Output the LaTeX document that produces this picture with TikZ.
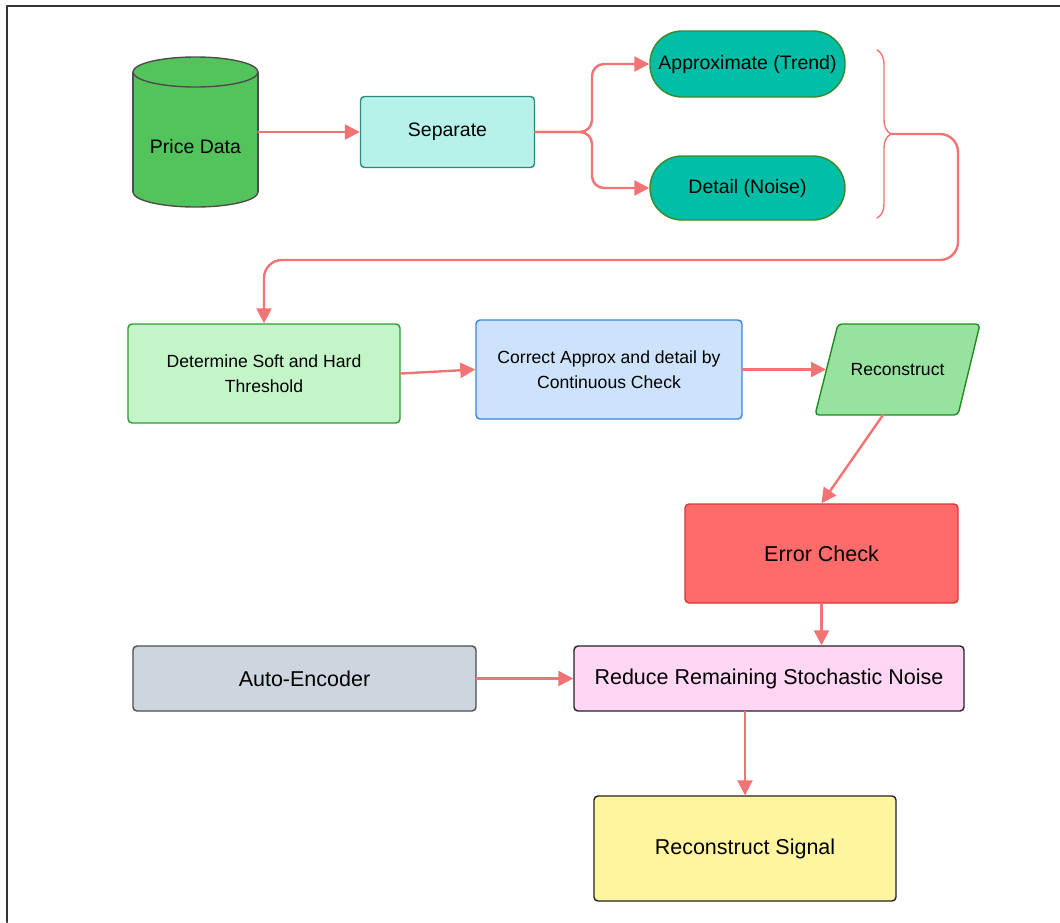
\documentclass[tikz,border=0pt]{standalone}
\usepackage{fontspec}
\setmainfont{Liberation Sans}
\usetikzlibrary{arrows.meta,decorations.pathreplacing}
\definecolor{linkred}{HTML}{F27373}
\definecolor{framegray}{HTML}{333333}
\definecolor{cylgreen}{HTML}{53C35C}
\definecolor{darkgray}{HTML}{4D4D4D}
\definecolor{sepfill}{HTML}{B6F2EA}
\definecolor{sepedge}{HTML}{2A8A7E}
\definecolor{tealfill}{HTML}{00BFA6}
\definecolor{tealedge}{HTML}{3A8A2A}
\definecolor{threshfill}{HTML}{C4F5C8}
\definecolor{threshedge}{HTML}{2E9B2E}
\definecolor{corrfill}{HTML}{CDE3FB}
\definecolor{corredge}{HTML}{3A85DB}
\definecolor{reconfill}{HTML}{98E2A0}
\definecolor{reconedge}{HTML}{1E8C1E}
\definecolor{errfill}{HTML}{FF6B6B}
\definecolor{erredge}{HTML}{D93636}
\definecolor{autofill}{HTML}{CDD5DE}
\definecolor{pinkfill}{HTML}{FFD6F4}
\definecolor{yellowfill}{HTML}{FFF59F}
\definecolor{nearblack}{HTML}{222222}
\begin{document}
\begin{tikzpicture}[x=1pt, y=-1pt, line join=round, line cap=round,
  link/.style={draw=linkred, line width=2.4pt, -{Triangle[length=15pt,width=15pt]}},
  flowbox/.style={rectangle, rounded corners=4pt, line width=1.4pt, align=center, inner sep=0pt},
  smalltext/.style={font=\fontsize{17.6}{24.5}\selectfont},
  midtext/.style={font=\fontsize{19.5}{23}\selectfont},
  largetext/.style={font=\fontsize{21.5}{26}\selectfont}]
\useasboundingbox (0,0) rectangle (1060,922);
\draw[framegray, line width=2pt] (7,922) -- (7,6) -- (1060,6);

% price data cylinder
\filldraw[fill=cylgreen, draw=darkgray, line width=1.4pt] (195.5,192) ellipse [x radius=62.5, y radius=15];
\fill[cylgreen] (133,72) rectangle (258,192);
\draw[darkgray, line width=1.4pt] (133,72) -- (133,192) (258,72) -- (258,192);
\filldraw[fill=cylgreen, draw=darkgray, line width=1.4pt] (195.5,72) ellipse [x radius=62.5, y radius=15];
\node[midtext, inner sep=0pt, minimum width=125pt, minimum height=120pt] (pdata) at (195.5,147) {Price Data};

\node[flowbox, midtext, fill=sepfill, draw=sepedge, minimum width=174pt, minimum height=71pt] (sep) at (447.5,132) {Separate};
\node[flowbox, midtext, rounded corners=32pt, fill=tealfill, draw=tealedge, minimum width=195pt, minimum height=66pt] (approx) at (747.5,64) {Approximate (Trend)};
\node[flowbox, midtext, rounded corners=32pt, fill=tealfill, draw=tealedge, minimum width=195pt, minimum height=64pt] (detail) at (747.5,188) {Detail (Noise)};

\node[flowbox, smalltext, fill=threshfill, draw=threshedge, minimum width=272pt, minimum height=99pt] (thresh) at (264,373.5) {Determine Soft and Hard\\Threshold};
\node[flowbox, smalltext, fill=corrfill, draw=corredge, minimum width=266pt, minimum height=99pt] (correct) at (609,369.5) {Correct Approx and detail by\\Continuous Check};
% reconstruct parallelogram
\filldraw[fill=reconfill, draw=reconedge, line width=1.4pt, rounded corners=4pt] (838,324) -- (980,324) -- (958,415) -- (815,415) -- cycle;
\node[smalltext, inner sep=0pt, minimum width=100pt, minimum height=91pt] (recon) at (897.5,369.5) {Reconstruct};
\coordinate (reconin) at (826,369.5);
\coordinate (reconout) at (883,415);

\node[flowbox, largetext, fill=errfill, draw=erredge, minimum width=273pt, minimum height=99pt] (errchk) at (821.5,553.5) {Error Check};
\node[flowbox, largetext, fill=autofill, draw=darkgray, minimum width=343pt, minimum height=65pt] (autoenc) at (304.5,678.5) {Auto-Encoder};
\node[flowbox, largetext, fill=pinkfill, draw=nearblack, minimum width=390pt, minimum height=65pt] (reduce) at (769,678.5) {Reduce Remaining Stochastic Noise};
\node[flowbox, largetext, fill=yellowfill, draw=nearblack, minimum width=302pt, minimum height=105pt] (signal) at (745,848.5) {Reconstruct Signal};

% connectors
\draw[link] (pdata.east |- sep.west) -- (sep.west);
\draw[link, rounded corners=12pt] (sep.east) -- (592,132) |- (approx.west);
\draw[link, rounded corners=12pt] (sep.east) -- (592,132) |- (detail.west);
\draw[linkred, line width=1.4pt, decorate, decoration={brace, amplitude=14pt}] (877,50) -- (877,218);
\coordinate (btip) at (891,134);
\draw[link, rounded corners=18pt] (btip) -- (958,134) -- (958,260) -- (264,260) -- (thresh.north);
\draw[link] (thresh.east) -- (correct.west);
\draw[link] (correct.east) -- (reconin);
\draw[link] (reconout) -- (errchk.north);
\draw[link] (errchk.south) -- (errchk.south |- reduce.north);
\draw[link] (autoenc.east) -- (reduce.west);
\draw[link] (reduce.south -| signal.north) -- (signal.north);
\end{tikzpicture}
\end{document}
